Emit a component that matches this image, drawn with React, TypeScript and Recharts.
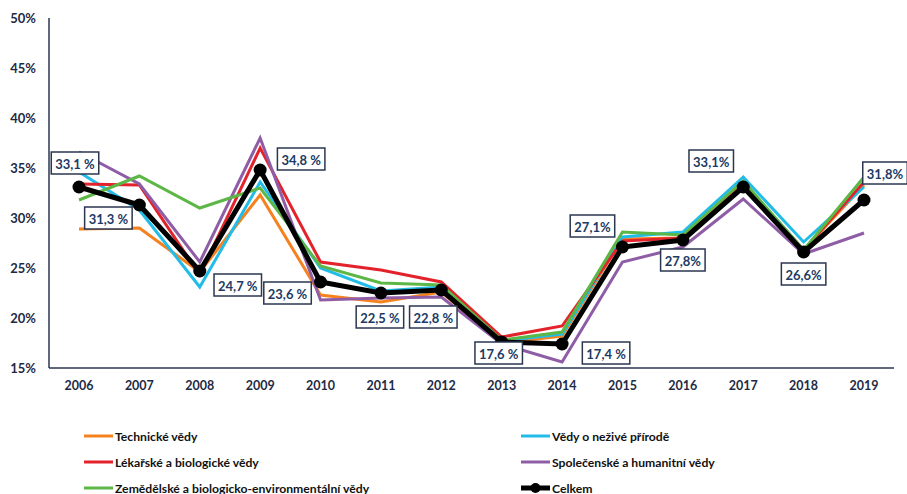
import React from 'react';
import { LineChart, Line, XAxis, YAxis, LabelList } from 'recharts';

const years = ['2006', '2007', '2008', '2009', '2010', '2011', '2012', '2013', '2014', '2015', '2016', '2017', '2018', '2019'];
const technicke = [28.9, 29.0, 24.6, 32.3, 22.3, 21.6, 22.6, 17.5, 18.2, 27.9, 28.0, 33.5, 26.8, 33.3];
const nezive = [34.6, 30.8, 23.1, 33.6, 25.0, 22.7, 23.1, 17.7, 18.4, 28.1, 28.6, 34.1, 27.6, 33.1];
const lekarske = [33.4, 33.3, 24.3, 37.0, 25.6, 24.8, 23.6, 18.1, 19.2, 27.7, 28.0, 33.5, 26.8, 33.6];
const spolecenske = [36.6, 33.4, 25.6, 38.0, 21.8, 22.0, 22.1, 17.4, 15.6, 25.6, 27.1, 31.9, 26.4, 28.5];
const zemedelske = [31.8, 34.2, 31.0, 33.0, 25.2, 23.5, 23.3, 17.8, 18.6, 28.6, 28.3, 33.7, 26.8, 34.1];
const celkem = [33.1, 31.3, 24.7, 34.8, 23.6, 22.5, 22.8, 17.6, 17.4, 27.1, 27.8, 33.1, 26.6, 31.8];
const celkemLabels = ['33,1 %', '31,3 %', '24,7 %', '34,8 %', '23,6 %', '22,5 %', '22,8 %', '17,6 %', '17,4 %', '27,1%', '27,8%', '33,1%', '26,6%', '31,8%'];
const yTicks = [15, 20, 25, 30, 35, 40, 45, 50];

const seriesNames = [
  'Technické vědy',
  'Vědy o neživé přírodě',
  'Lékařské a biologické vědy',
  'Společenské a humanitní vědy',
  'Zemědělské a biologicko-environmentální vědy',
  'Celkem',
];
const seriesValues = [technicke, nezive, lekarske, spolecenske, zemedelske, celkem];

// styling (not data)
const seriesColors = ['#F5821F', '#22BCE9', '#E3232C', '#8E5DA6', '#5DB746', '#000000'];
const seriesWidths = [3, 3, 3, 3, 3, 5];
const labelOffsets: [number, number][] = [
  [-4, -24], [-31, 13], [38, 14], [41, -11], [-33, 11], [-1, 24], [-8, 27],
  [-3, 11], [44, 9], [-30, -21], [0, 20], [-32, -26], [0, 22], [21, -27],
];

const keys = ['s0', 's1', 's2', 's3', 's4', 's5'];
const data = years.map((y, i) => {
  const row: Record<string, string | number> = { year: y };
  seriesValues.forEach((arr, s) => {
    row[keys[s]] = arr[i];
  });
  return row;
});

const FONT = 'Lato, "Open Sans", sans-serif';
const AXIS_COLOR = '#2B3650';
const TEXT_COLOR = '#1E2A45';
const LABEL_COLOR = '#203A64';

const charW = (c: string) => {
  if (c >= '0' && c <= '9') return 7;
  if (c === ',') return 3.5;
  if (c === ' ') return 3;
  if (c === '%') return 11;
  return 7;
};

const BoxLabel = (props: any) => {
  const { x, y, index } = props;
  const text = celkemLabels[index];
  const [dx, dy] = labelOffsets[index];
  const w = text.split('').reduce((a, c) => a + charW(c), 0) + 9;
  const h = 22;
  const cx = x + dx;
  const cy = y + dy;
  return (
    <g>
      <rect x={cx - w / 2} y={cy - h / 2} width={w} height={h} fill="#fff" stroke={AXIS_COLOR} strokeWidth={1.5} />
      <text x={cx} y={cy + 1} textAnchor="middle" dominantBaseline="central" fill={LABEL_COLOR}
        style={{ fontFamily: FONT, fontWeight: 700, fontSize: 13 }}>{text}</text>
    </g>
  );
};

const YTick = (props: any) => {
  const { x, y, payload } = props;
  return (
    <text x={x - 5} y={y} textAnchor="end" dominantBaseline="central" fill={TEXT_COLOR}
      style={{ fontFamily: FONT, fontWeight: 700, fontSize: 13 }}>{payload.value}%</text>
  );
};

const XTick = (props: any) => {
  const { x, y, payload } = props;
  return (
    <text x={x} y={y + 9} textAnchor="middle" dominantBaseline="central" fill={TEXT_COLOR}
      style={{ fontFamily: FONT, fontWeight: 700, fontSize: 12.5 }}>{payload.value}</text>
  );
};

const legendPos: [number, number][] = [
  [84, 436], [521, 436], [84, 462], [521, 462], [84, 488], [521, 488],
];

const LegendOverlay = () => (
  <svg width={907} height={494} style={{ position: 'absolute', left: 0, top: 0, pointerEvents: 'none' }}>
    {seriesNames.map((name, i) => {
      const [lx, ly] = legendPos[i];
      const isTotal = i === 5;
      return (
        <g key={name}>
          <line x1={lx} x2={lx + 29} y1={ly} y2={ly} stroke={seriesColors[i]} strokeWidth={isTotal ? 5 : 3} />
          {isTotal && <circle cx={lx + 14.5} cy={ly} r={5} fill="#000" />}
          <text x={lx + 31} y={ly} dominantBaseline="central" fill="#111"
            style={{ fontFamily: FONT, fontWeight: 700, fontSize: 12.2 }}>{name}</text>
        </g>
      );
    })}
  </svg>
);

export default function App() {
  return (
    <div style={{ position: 'absolute', left: 0, top: 0, width: 907, height: 494, background: '#fff' }}>
      <LineChart width={907} height={494} data={data} margin={{ top: 18, right: 13, left: 0, bottom: 0 }}>
        <XAxis dataKey="year" height={126} padding={{ left: 30, right: 30 }} tickLine={false}
          axisLine={{ stroke: AXIS_COLOR, strokeWidth: 1.5 }} tick={<XTick />} interval={0} />
        <YAxis width={49} domain={[15, 50]} ticks={yTicks} tickLine={false} allowDataOverflow
          axisLine={{ stroke: AXIS_COLOR, strokeWidth: 1.5 }} tick={<YTick />} interval={0} />
        {keys.map((k, i) => (
          <Line key={k} dataKey={k} name={seriesNames[i]} type="linear" stroke={seriesColors[i]}
            strokeWidth={seriesWidths[i]} isAnimationActive={false}
            dot={i === 5 ? { r: 6.5, fill: '#000', stroke: '#000', strokeWidth: 0 } : false}
            activeDot={false}>
            {i === 5 && <LabelList dataKey={k} content={<BoxLabel />} />}
          </Line>
        ))}
      </LineChart>
      <LegendOverlay />
    </div>
  );
}
